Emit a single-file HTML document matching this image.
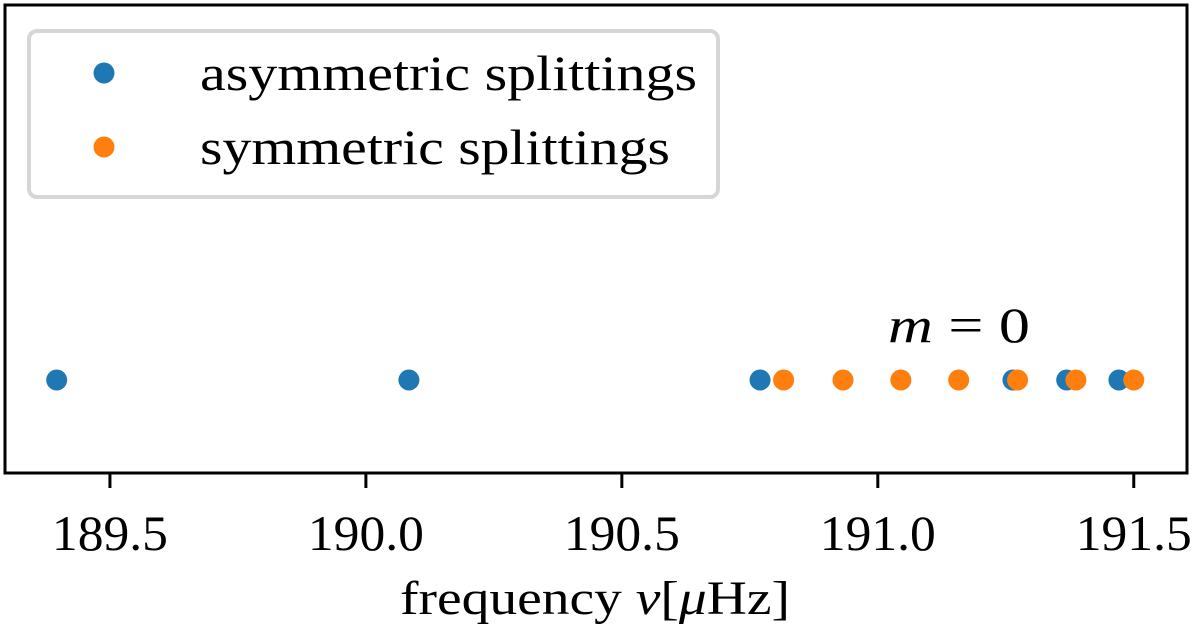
<!DOCTYPE html>
<html><head><meta charset="utf-8"><style>
html,body{margin:0;padding:0;background:#fff;}
svg{display:block;font-family:"Liberation Serif",serif;}
</style></head><body>
<svg id="chart" width="1200" height="635" viewBox="0 0 1200 635">
<rect x="5" y="5" width="1182" height="468" fill="none" stroke="#000" stroke-width="3"/>
<g id="ticks"></g>
<g id="pts"></g>
<text x="888" y="342" font-size="50" textLength="142" lengthAdjust="spacingAndGlyphs"><tspan font-style="italic">m</tspan> = 0</text>
<text x="400" y="614" font-size="48" textLength="390" lengthAdjust="spacingAndGlyphs">frequency <tspan font-style="italic">ν</tspan>[<tspan font-style="italic">μ</tspan>Hz]</text>
<g>
<rect x="29" y="31" width="689" height="166" rx="8" fill="#fff" stroke="#d6d6d6" stroke-width="4"/>
<circle cx="104" cy="73" r="10.5" fill="#1f77b4"/>
<text x="200" y="90" font-size="50" textLength="497" lengthAdjust="spacingAndGlyphs">asymmetric splittings</text>
<circle cx="104" cy="147" r="10.5" fill="#ff7f0e"/>
<text x="200" y="164" font-size="50" textLength="470" lengthAdjust="spacingAndGlyphs">symmetric splittings</text>
</g>
</svg>
<script>
const tickValues = [189.5, 190.0, 190.5, 191.0, 191.5];
const tickLabels = ["189.5", "190.0", "190.5", "191.0", "191.5"];
const asymmetricFreqs = [189.396, 190.084, 190.770, 191.264, 191.369, 191.471];
const symmetricFreqs = [190.816, 190.932, 191.045, 191.158, 191.273, 191.387, 191.500];
const xMin = 189.295, xMax = 191.604;
const NS = "http://www.w3.org/2000/svg";
function xs(v){ return 5 + (v - xMin) / (xMax - xMin) * 1182; }
const yPts = 380;
const tg = document.getElementById('ticks');
tickValues.forEach((v, i) => {
  const l = document.createElementNS(NS, 'line');
  l.setAttribute('x1', xs(v)); l.setAttribute('x2', xs(v));
  l.setAttribute('y1', 473); l.setAttribute('y2', 488);
  l.setAttribute('stroke', '#000'); l.setAttribute('stroke-width', 3);
  
  
  tg.appendChild(l);
  const t = document.createElementNS(NS, 'text');
  t.setAttribute('x', xs(v) - 58); t.setAttribute('y', 550);
  t.setAttribute('font-size', 50);
  t.setAttribute('textLength', 116);
  t.setAttribute('lengthAdjust', 'spacingAndGlyphs');
  t.textContent = tickLabels[i];
  
  
  tg.appendChild(t);
});
const pg = document.getElementById('pts');
function dot(v, color, name){
  const c = document.createElementNS(NS, 'circle');
  c.setAttribute('cx', xs(v)); c.setAttribute('cy', yPts); c.setAttribute('r', 10.5);
  c.setAttribute('fill', color);
  
  
  pg.appendChild(c);
}
asymmetricFreqs.forEach(v => dot(v, '#1f77b4', 'asymmetric-point'));
symmetricFreqs.forEach(v => dot(v, '#ff7f0e', 'symmetric-point'));
</script>
</body></html>
